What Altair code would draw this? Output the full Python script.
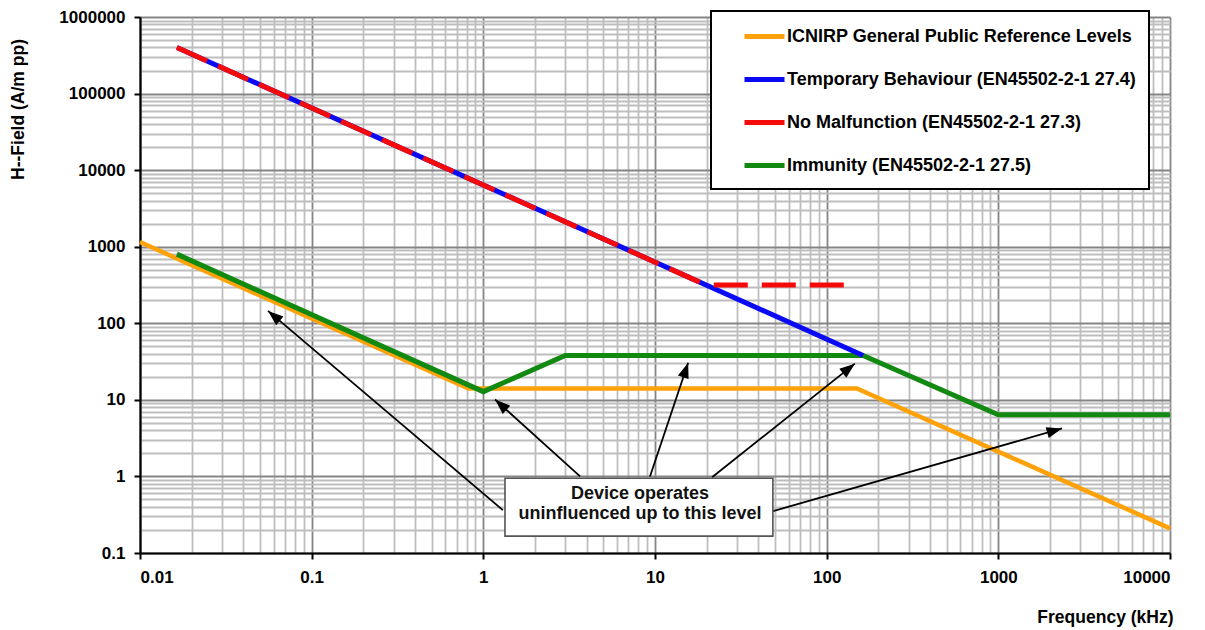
import math
import altair as alt
import pandas as pd

# ---- data (frequency in kHz, H-field in A/m pp) ----
series_names = [
    "ICNIRP General Public Reference Levels",
    "Temporary Behaviour (EN45502-2-1 27.4)",
    "No Malfunction (EN45502-2-1 27.3)",
    "Immunity (EN45502-2-1 27.5)",
]
colors = ["#FFA20A", "#0A0AF5", "#F50A0A", "#128A12"]

icnirp_f = [0.01, 0.82, 150, 10000]
icnirp_h = [1150, 14.1, 14.1, 0.21]
temp_f = [0.0164, 163]
temp_h = [400000, 38]
nomal_f = [0.0164, 19]
nomal_h = [400000, 330]
nomal_flat_f = [22, 135]
nomal_flat_h = [316, 316]
imm_f = [0.0164, 1.0, 3.0, 163, 1000, 10000]
imm_h = [800, 12.8, 38, 38, 6.4, 6.4]

# annotation
arrow_start_f = [1.30, 3.66, 9.35, 21.5, 48.7]
arrow_start_h = [0.363, 1.0, 1.0, 0.975, 0.352]
arrow_tip_f = [0.0557, 1.17, 15.6, 146, 2349]
arrow_tip_h = [145, 10.1, 30.6, 29.7, 4.23]
box_f = [1.337, 48.6]
box_h = [0.946, 0.166]
note_lines = ["Device operates", "uninfluenced up to this level"]
note_f = [8.18, 8.18]
note_h = [0.586, 0.322]

W, H = 1030, 536
FONT = "Liberation Sans"

x_ticks = [round(m * 10 ** k, 6) for k in range(-2, 4) for m in range(1, 10)] + [10000]
y_ticks = [round(m * 10 ** k, 6) for k in range(-1, 6) for m in range(1, 10)] + [1000000]

MAJOR = "abs(log(datum.value)/LN10 - round(log(datum.value)/LN10)) < 0.001"
grid_color = {"condition": {"test": MAJOR, "value": "#858585"}, "value": "#BEBEBE"}
tick_op = {"condition": {"test": MAJOR, "value": 1}, "value": 0}
label_expr = f"({MAJOR}) ? format(datum.value, '') : ''"

common_axis = dict(
    grid=True, gridColor=grid_color, gridWidth=1.8,
    domainColor="black", domainWidth=2.2,
    tickColor="black", tickWidth=2, tickSize=6, tickOpacity=tick_op,
    labelExpr=label_expr, labelOverlap=False,
    labelFont=FONT, labelFontSize=17, labelFontWeight="bold", labelColor="black",
    titleFont=FONT, titleFontSize=17.5, titleFontWeight="bold", titleColor="black",
)

xaxis = alt.Axis(values=x_ticks, labelPadding=10, titleX=1033, titleY=64,
                 titleAlign="right", titleBaseline="middle", **common_axis)
yaxis = alt.Axis(values=y_ticks, labelPadding=9, titleX=-122, titleY=92, titleAngle=270,
                 titleAlign="center", titleBaseline="middle", **common_axis)

xscale = alt.Scale(type="log", domain=[0.01, 10000], nice=False)
yscale = alt.Scale(type="log", domain=[0.1, 1000000], nice=False)

X = alt.X("f:Q", scale=xscale, axis=xaxis, title="Frequency (kHz)")
Y = alt.Y("h:Q", scale=yscale, axis=yaxis, title="H--Field (A/m pp)")

color = alt.Color(
    "series:N",
    scale=alt.Scale(domain=series_names, range=colors),
    legend=alt.Legend(
        title=None, orient="none", legendX=571, legendY=-6,
        fillColor="white", strokeColor="black", padding=13,
        symbolType="M-2,0L2,0", symbolSize=400, symbolStrokeWidth=5, symbolOffset=28,
        labelFont=FONT, labelFontSize=18, labelFontWeight="bold", labelColor="black",
        labelOffset=10, labelLimit=700, rowPadding=20,
        labelExpr="datum.label + '\u2003'",
    ),
)


def series_df(fs, hs, name):
    return pd.DataFrame({"f": fs, "h": hs, "series": [name] * len(fs)})


orange = alt.Chart(series_df(icnirp_f, icnirp_h, series_names[0])).mark_line(
    strokeWidth=4.5).encode(x=X, y=Y, color=color)
green = alt.Chart(series_df(imm_f, imm_h, series_names[3])).mark_line(
    strokeWidth=5).encode(x=X, y=Y, color=color)
blue = alt.Chart(series_df(temp_f, temp_h, series_names[1])).mark_line(
    strokeWidth=5).encode(x=X, y=Y, color=color)
red_diag = alt.Chart(series_df(nomal_f, nomal_h, series_names[2])).mark_line(
    strokeWidth=5, strokeDash=[33, 12]).encode(x=X, y=Y, color=color)
red_flat = alt.Chart(series_df(nomal_flat_f, nomal_flat_h, series_names[2])).mark_line(
    strokeWidth=5, strokeDash=[34, 14]).encode(x=X, y=Y, color=color)

# arrows
PXX = W / 6.0
PXY = H / 7.0
angles = []
for sf, sh, tf, th in zip(arrow_start_f, arrow_start_h, arrow_tip_f, arrow_tip_h):
    dx = (math.log10(tf) - math.log10(sf)) * PXX
    dy = -(math.log10(th) - math.log10(sh)) * PXY
    angles.append(math.degrees(math.atan2(dx, -dy)) % 360)

arrows_df = pd.DataFrame({"f": arrow_start_f, "h": arrow_start_h,
                          "f2": arrow_tip_f, "h2": arrow_tip_h})
heads_df = pd.DataFrame({"f": arrow_tip_f, "h": arrow_tip_h, "ang": angles})

arrow_lines = alt.Chart(arrows_df).mark_rule(color="black", strokeWidth=1.8).encode(
    x=X, y=Y, x2="f2:Q", y2="h2:Q")
arrow_heads = alt.Chart(heads_df).mark_point(
    shape="M0,0L0.8,2.2L-0.8,2.2Z", filled=True, color="black", opacity=1, size=196
).encode(x=X, y=Y, angle=alt.Angle("ang:Q", scale=None))

box = alt.Chart(pd.DataFrame({"f": [box_f[0]], "f2": [box_f[1]],
                              "h": [box_h[0]], "h2": [box_h[1]]})).mark_rect(
    fill="white", stroke="#555555", strokeWidth=1.6).encode(x=X, y=Y, x2="f2:Q", y2="h2:Q")
note = alt.Chart(pd.DataFrame({"f": note_f, "h": note_h, "t": note_lines})).mark_text(
    font=FONT, fontSize=18, fontWeight="bold", color="#111111", align="center",
    baseline="middle").encode(x=X, y=Y, text="t:N")

chart = alt.layer(
    orange, green, blue, red_diag, red_flat, arrow_lines, arrow_heads, box, note
).properties(
    width=W, height=H,
    autosize=alt.AutoSizeParams(type="none"),
    padding={"left": 132, "top": 9, "right": 27, "bottom": 75},
    background="white",
).configure_view(stroke=None).configure_legend(strokeWidth=2)

chart.save("out.html", embed_options={"renderer": "svg", "actions": False})
